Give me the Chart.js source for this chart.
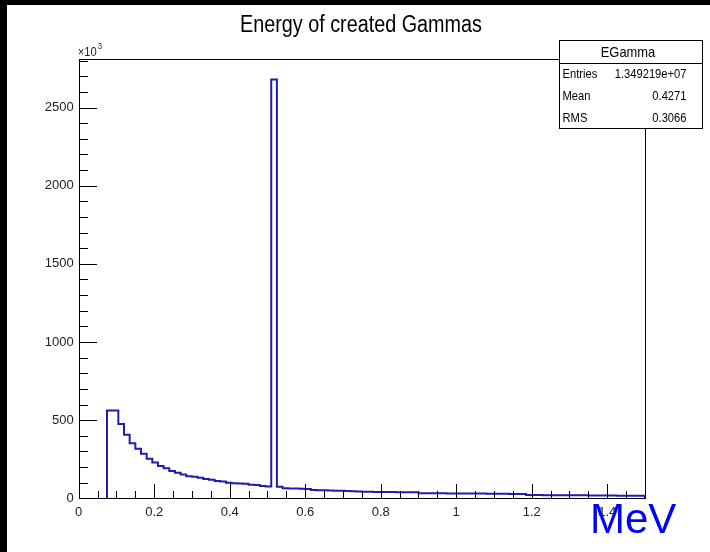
<!DOCTYPE html>
<html>
<head>
<meta charset="utf-8">
<script src="https://cdn.jsdelivr.net/npm/chart.js@4/dist/chart.umd.min.js"></script>
<style>
  html, body { margin: 0; padding: 0; background: #fff; }
  #c { display: block; }
</style>
</head>
<body>
<canvas id="c" width="710" height="552"></canvas>
<script>
// EGamma: energy of created gammas, 100 bins of 0.015 MeV from 0 to 1.5 (counts in units of 10^3)
const BIN_LOW = 0;
const BIN_WIDTH = 0.015;
const counts = [
  0, 0, 0, 0, 0, 561, 561, 475, 407, 353,
  317, 285, 253, 229, 206, 193, 175, 163, 152, 141,
  138, 131, 124, 119, 110, 107, 100, 97, 95, 93,
  87, 85, 78, 75, 2680, 74, 64, 63, 62, 61,
  60, 53, 52, 51, 50, 49, 48, 47, 45, 43,
  42, 42, 41, 41, 40, 40, 39, 39, 38, 38,
  33, 33, 32, 32, 32, 31, 31, 31, 30, 30,
  30, 30, 29, 29, 29, 29, 28, 28, 28, 21,
  21, 21, 20, 20, 20, 20, 19, 19, 19, 19,
  18, 18, 18, 18, 18, 17, 17, 17, 17, 17
];

// axes
const X_MIN = 0, X_MAX = 1.5, X_MINOR = 0.05;
const X_TICKS = [0, 0.2, 0.4, 0.6, 0.8, 1, 1.2, 1.4];
const X_LABELS = ['0', '0.2', '0.4', '0.6', '0.8', '1', '1.2', '1.4'];
const Y_MIN = 0, Y_MAX = 2814, Y_MINOR = 100;
const Y_TICKS = [0, 500, 1000, 1500, 2000, 2500];
const Y_LABELS = ['0', '500', '1000', '1500', '2000', '2500'];

// stats box
const statsTitle = 'EGamma';
const statsNames = ['Entries', 'Mean', 'RMS'];
const statsValues = ['1.349219e+07', '0.4271', '0.3066'];

const TITLE = 'Energy of created Gammas';
const X_UNIT = 'MeV';

const SANS = "'Liberation Sans', Arial, Helvetica, sans-serif";
const SQUEEZE = 0.86;   // helvetica in the canvas output is a bit condensed
const LINE_COLOR = '#1e1eaa';

// histogram outline as step points (left bin edges), skipping the empty bins at the start
function histPoints() {
  const pts = [];
  const first = counts.findIndex(c => c > 0);
  pts.push({ x: BIN_LOW + first * BIN_WIDTH, y: 0 });
  for (let i = first; i < counts.length; i++) {
    pts.push({ x: BIN_LOW + i * BIN_WIDTH, y: counts[i] });
  }
  const end = BIN_LOW + counts.length * BIN_WIDTH;
  pts.push({ x: end, y: counts[counts.length - 1] });
  pts.push({ x: end, y: 0 });
  return pts;
}

// condensed text helper
function squeezedText(ctx, text, x, y, align) {
  ctx.save();
  ctx.translate(x, y);
  ctx.scale(SQUEEZE, 1);
  ctx.textAlign = align;
  ctx.fillText(text, 0, 0);
  ctx.restore();
}

const rootLook = {
  id: 'rootLook',
  beforeDraw(chart) {
    const ctx = chart.ctx;
    ctx.save();
    ctx.fillStyle = '#fff';
    ctx.fillRect(0, 0, chart.width, chart.height);
    ctx.fillStyle = '#000';
    ctx.fillRect(0, 0, 7, chart.height);
    ctx.fillRect(0, 0, chart.width, 5);
    ctx.restore();
  },
  afterDatasetsDraw(chart) {
    const ctx = chart.ctx;
    const xs = chart.scales.x, ys = chart.scales.y;
    const { left, right, top, bottom } = chart.chartArea;
    const l = Math.round(left), b = Math.round(bottom);
    ctx.save();
    ctx.strokeStyle = '#000';
    ctx.lineWidth = 1;
    ctx.strokeRect(l + 0.5, Math.round(top) + 0.5, Math.round(right) - l, b - Math.round(top));
    ctx.beginPath();
    // ticks point into the frame, majors at the labelled values
    const nx = Math.round((X_MAX - X_MIN) / X_MINOR);
    for (let k = 0; k <= nx; k++) {
      const v = X_MIN + k * X_MINOR;
      const major = X_TICKS.some(t => Math.abs(t - v) < 1e-6);
      const px = Math.round(xs.getPixelForValue(v)) + 0.5;
      ctx.moveTo(px, b);
      ctx.lineTo(px, b - (major ? 14 : 7));
    }
    const ny = Math.floor((Y_MAX - Y_MIN) / Y_MINOR);
    for (let k = 0; k <= ny; k++) {
      const v = Y_MIN + k * Y_MINOR;
      const major = Y_TICKS.includes(v);
      const py = Math.round(ys.getPixelForValue(v)) + 0.5;
      ctx.moveTo(l, py);
      ctx.lineTo(l + (major ? 18 : 9), py);
    }
    ctx.stroke();
    ctx.restore();
  },
  afterDraw(chart) {
    const ctx = chart.ctx;
    const { left } = chart.chartArea;
    ctx.save();
    ctx.textBaseline = 'alphabetic';

    // title
    ctx.fillStyle = '#000';
    ctx.font = '23px ' + SANS;
    squeezedText(ctx, TITLE, 361, 32, 'center');

    // x10^3 multiplier
    ctx.fillStyle = '#222';
    ctx.font = '13px ' + SANS;
    squeezedText(ctx, '\u00d710', left - 1, 56, 'left');
    const w = ctx.measureText('\u00d710').width * SQUEEZE;
    ctx.font = '9px ' + SANS;
    squeezedText(ctx, '3', left + w, 49, 'left');

    // stats box
    const bx = 559.5, by = 40.5, bw = 143, bh = 88;
    ctx.fillStyle = '#fff';
    ctx.fillRect(bx, by, bw, bh);
    ctx.strokeStyle = '#000';
    ctx.lineWidth = 1;
    ctx.strokeRect(bx, by, bw, bh);
    const rowH = bh / 4;
    ctx.beginPath();
    ctx.moveTo(bx, by + rowH + 1);
    ctx.lineTo(bx + bw, by + rowH + 1);
    ctx.stroke();
    ctx.fillStyle = '#000';
    ctx.textBaseline = 'middle';
    ctx.font = '15px ' + SANS;
    squeezedText(ctx, statsTitle, bx + bw / 2 - 3, by + rowH / 2 + 1, 'center');
    ctx.font = '13px ' + SANS;
    for (let i = 0; i < statsNames.length; i++) {
      const cy = by + rowH * (i + 1.5) + 1;
      squeezedText(ctx, statsNames[i], bx + 3, cy, 'left');
      squeezedText(ctx, statsValues[i], bx + bw - 16, cy, 'right');
    }

    // unit label
    ctx.fillStyle = '#0000ff';
    ctx.textAlign = 'left';
    ctx.textBaseline = 'alphabetic';
    ctx.font = '42px ' + SANS;
    ctx.fillText(X_UNIT, 590, 533);
    ctx.restore();
  }
};

const chart = new Chart(document.getElementById('c'), {
  type: 'line',
  data: {
    datasets: [{
      label: statsTitle,
      data: histPoints(),
      stepped: true,
      borderColor: LINE_COLOR,
      borderWidth: 2,
      pointRadius: 0,
      fill: false,
      tension: 0
    }]
  },
  options: {
    responsive: false,
    animation: false,
    devicePixelRatio: 1,
    layout: { padding: { top: 58.5, right: 65, bottom: 0, left: 0 } },
    plugins: {
      legend: { display: false },
      tooltip: { enabled: false },
      title: { display: false }
    },
    scales: {
      x: {
        type: 'linear',
        min: X_MIN,
        max: X_MAX,
        border: { display: false },
        grid: { display: false, drawTicks: false },
        afterBuildTicks(scale) { scale.ticks = X_TICKS.map(v => ({ value: v })); },
        ticks: {
          autoSkip: false,
          padding: 6,
          maxRotation: 0,
          color: '#222',
          font: { family: SANS, size: 13 },
          callback: (v, i) => X_LABELS[i]
        },
        afterFit(scale) { scale.height = 53.7; }
      },
      y: {
        type: 'linear',
        min: Y_MIN,
        max: Y_MAX,
        border: { display: false },
        grid: { display: false, drawTicks: false },
        afterBuildTicks(scale) { scale.ticks = Y_TICKS.map(v => ({ value: v })); },
        ticks: {
          autoSkip: false,
          padding: 5,
          color: '#222',
          font: { family: SANS, size: 13 },
          callback: (v, i) => Y_LABELS[i]
        },
        afterFit(scale) { scale.width = 78.7; }
      }
    }
  },
  plugins: [rootLook]
});
</script>
</body>
</html>
